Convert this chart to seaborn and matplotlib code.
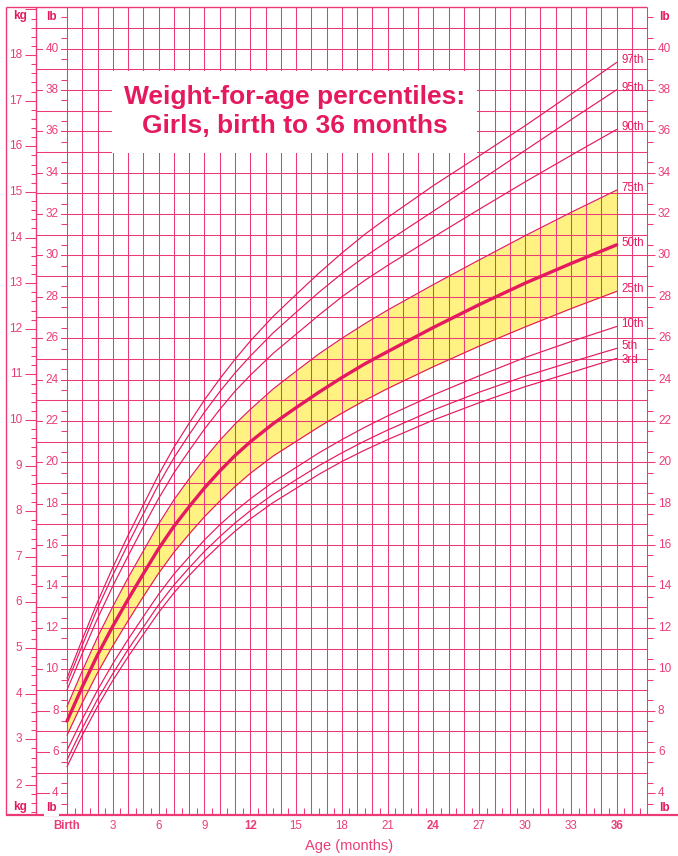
import matplotlib
matplotlib.use('Agg')
from matplotlib import pyplot as plt
from matplotlib.patches import Rectangle
import numpy as np
import pandas as pd
import seaborn as sns

#### DATA #####################################################################
ages = [0, 1, 2, 3, 4, 5, 6, 7, 8, 9, 10, 11, 12, 13.5, 15, 16.5, 18, 19.5, 21, 24, 27, 30, 33, 36]

# weight in kg
p97 = [4.34, 5.19, 6.01, 6.77, 7.47, 8.14, 8.80, 9.40, 9.93, 10.44, 10.90, 11.33, 11.73, 12.27, 12.75, 13.22, 13.66, 14.07, 14.44, 15.14, 15.79, 16.45, 17.14, 17.84]
p95 = [4.23, 5.06, 5.87, 6.60, 7.28, 7.94, 8.59, 9.17, 9.68, 10.17, 10.62, 11.03, 11.40, 11.91, 12.36, 12.80, 13.21, 13.58, 13.92, 14.58, 15.24, 15.91, 16.58, 17.24]
p90 = [4.08, 4.88, 5.65, 6.36, 7.02, 7.66, 8.28, 8.84, 9.33, 9.80, 10.23, 10.63, 10.98, 11.46, 11.88, 12.30, 12.70, 13.06, 13.39, 14.01, 14.62, 15.22, 15.80, 16.37]
p75 = [3.72, 4.50, 5.24, 5.91, 6.54, 7.13, 7.72, 8.25, 8.71, 9.15, 9.55, 9.91, 10.23, 10.68, 11.07, 11.45, 11.79, 12.11, 12.41, 12.97, 13.51, 14.04, 14.55, 15.04]
p50 = [3.40, 4.15, 4.85, 5.48, 6.07, 6.63, 7.18, 7.67, 8.10, 8.51, 8.88, 9.22, 9.52, 9.92, 10.27, 10.61, 10.93, 11.23, 11.50, 12.03, 12.53, 13.00, 13.43, 13.84]
p25 = [3.09, 3.80, 4.46, 5.05, 5.60, 6.13, 6.64, 7.10, 7.50, 7.88, 8.22, 8.54, 8.83, 9.21, 9.53, 9.85, 10.15, 10.43, 10.69, 11.17, 11.62, 12.04, 12.44, 12.82]
p10 = [2.76, 3.44, 4.08, 4.66, 5.19, 5.69, 6.18, 6.62, 7.00, 7.37, 7.70, 8.00, 8.27, 8.64, 8.96, 9.28, 9.57, 9.84, 10.09, 10.55, 10.97, 11.37, 11.72, 12.05]
p5 = [2.55, 3.24, 3.88, 4.44, 4.97, 5.46, 5.95, 6.38, 6.76, 7.12, 7.44, 7.74, 8.01, 8.37, 8.69, 9.00, 9.28, 9.54, 9.78, 10.22, 10.61, 10.96, 11.27, 11.57]
p3 = [2.40, 3.09, 3.72, 4.29, 4.81, 5.30, 5.78, 6.21, 6.59, 6.94, 7.26, 7.56, 7.83, 8.19, 8.50, 8.81, 9.09, 9.34, 9.57, 10.00, 10.38, 10.73, 11.04, 11.35]

pct_names = ['97th', '95th', '90th', '75th', '50th', '25th', '10th', '5th', '3rd']
pct_values = [p97, p95, p90, p75, p50, p25, p10, p5, p3]

x_ticks = [0, 3, 6, 9, 12, 15, 18, 21, 24, 27, 30, 33, 36]
x_labels = ['Birth', '3', '6', '9', '12', '15', '18', '21', '24', '27', '30', '33', '36']
bold_months = [0, 12, 24, 36]

title = 'Weight-for-age percentiles:\nGirls, birth to 36 months'

KG2LB = 2.20462

#### STYLE ####################################################################
sns.set_style('white')
plt.rcParams['font.family'] = ['Liberation Sans', 'DejaVu Sans']

PINK = '#e5195e'
GRID = '#eb3a75'
TXT = '#ea3d78'
YELLOW = '#fff283'

# one axes covering the whole figure, x in months, y in lb
fig = plt.figure(figsize=(6.78, 8.56), dpi=100)
ax = fig.add_axes([0, 0, 1, 1])
ax.axis('off')

y_bot = 2.95
y_top = 42.0
x_left = -4.0
x_kg = -2.0
x_right = 38.0

#### GRID #####################################################################
ax.vlines(np.arange(0, 39), y_bot, y_top, color=GRID, lw=0.75, zorder=1)
ax.hlines(np.arange(5, 42), x_kg, x_right, color=GRID, lw=0.75, zorder=1)
ax.hlines([4], x_kg, 0, color=GRID, lw=0.75, zorder=1)
# frame
ax.vlines([x_left, x_kg], y_bot, y_top, color=GRID, lw=1.0, zorder=1)
ax.hlines([y_top], x_left, x_right, color=GRID, lw=1.0, zorder=1)
ax.hlines([y_bot], x_left, 40.1, color=GRID, lw=1.6, zorder=3)

# half month ticks on bottom axis
ax.vlines(np.arange(0.5, 38, 1), y_bot, y_bot + 0.35, color=GRID, lw=0.75, zorder=1)

# lb minor ticks (left and right)
half_lb = np.arange(3.5, 42, 1)
ax.hlines(half_lb, -0.42, 0, color=GRID, lw=0.75)
ax.hlines(half_lb, x_right, x_right + 0.35, color=GRID, lw=0.75)
ax.hlines(np.arange(4, 42, 2), x_right, x_right + 0.5, color=GRID, lw=0.75)

# kg ticks
kg_minor = np.arange(1.4, 19.01, 0.2)
ax.hlines(kg_minor * KG2LB, x_kg - 0.36, x_kg, color=GRID, lw=0.75)
kg_major = np.arange(2, 20)
ax.hlines(kg_major * KG2LB, x_kg - 0.72, x_kg, color=GRID, lw=0.75)

# labels
for kg in range(2, 19):
    ax.text(-2.95, kg * KG2LB, str(kg), ha='right', va='center',
            fontsize=8.5, color=TXT)
for lb in range(4, 41, 2):
    ax.text(-0.55, lb, str(lb), ha='right', va='center', fontsize=8.5,
            color=TXT, bbox=dict(boxstyle='square,pad=0.2', fc='white', ec='none'),
            zorder=4)
    ax.text(38.7, lb, str(lb), ha='left', va='center', fontsize=8.5,
            color=TXT, bbox=dict(boxstyle='square,pad=0.1', fc='white', ec='none'),
            zorder=4)

for lbl_y in [41.5, 3.3]:
    ax.text(-3.05, lbl_y + 0.05, 'kg', ha='center', va='center', fontsize=8.5,
            color=PINK, fontweight='bold')
    ax.text(-1.0, lbl_y, 'lb', ha='center', va='center', fontsize=8.5,
            color=PINK, fontweight='bold', zorder=4,
            bbox=dict(boxstyle='square,pad=0.2', fc='white', ec='none'))
    ax.text(39.15, lbl_y, 'lb', ha='center', va='center', fontsize=8.5,
            color=PINK, fontweight='bold')

for m, lab in zip(x_ticks, x_labels):
    ax.text(m, 2.42, lab, ha='center', va='center', fontsize=8.3, color=TXT,
            fontweight='bold' if m in bold_months else 'normal')
ax.text(18.5, 1.45, 'Age (months)', ha='center', va='center', fontsize=10.5,
        color=TXT)

#### CURVES ###################################################################
df = pd.DataFrame({'age': ages})
for name, vals in zip(pct_names, pct_values):
    df[name] = np.array(vals) * KG2LB

ax.fill_between(df['age'], df['25th'], df['75th'], color=YELLOW, lw=0, zorder=0.5)

for name in pct_names:
    lw = 2.4 if name == '50th' else 0.85
    sns.lineplot(data=df, x='age', y=name, ax=ax, color=PINK, lw=lw, zorder=2,
                 legend=False)
    dy = {'5th': 0.1, '3rd': -0.08}.get(name, 0.1)
    ax.text(36.3, df[name].iloc[-1] + dy, name, ha='left', va='center',
            fontsize=8.3, color=PINK, zorder=4)

ax.set_xlim(-4.388, 40.013)
ax.set_ylim(0.975, 42.344)

#### TITLE ####################################################################
ax.add_patch(Rectangle((2.95, 34.95), 23.9, 3.95, fc='white', ec='none', zorder=3))
ax.text(14.9, 36.95, title, ha='center', va='center', fontsize=19,
        fontweight='bold', color=PINK, linespacing=1.25, zorder=4)

fig.savefig('out.png', dpi=100)
